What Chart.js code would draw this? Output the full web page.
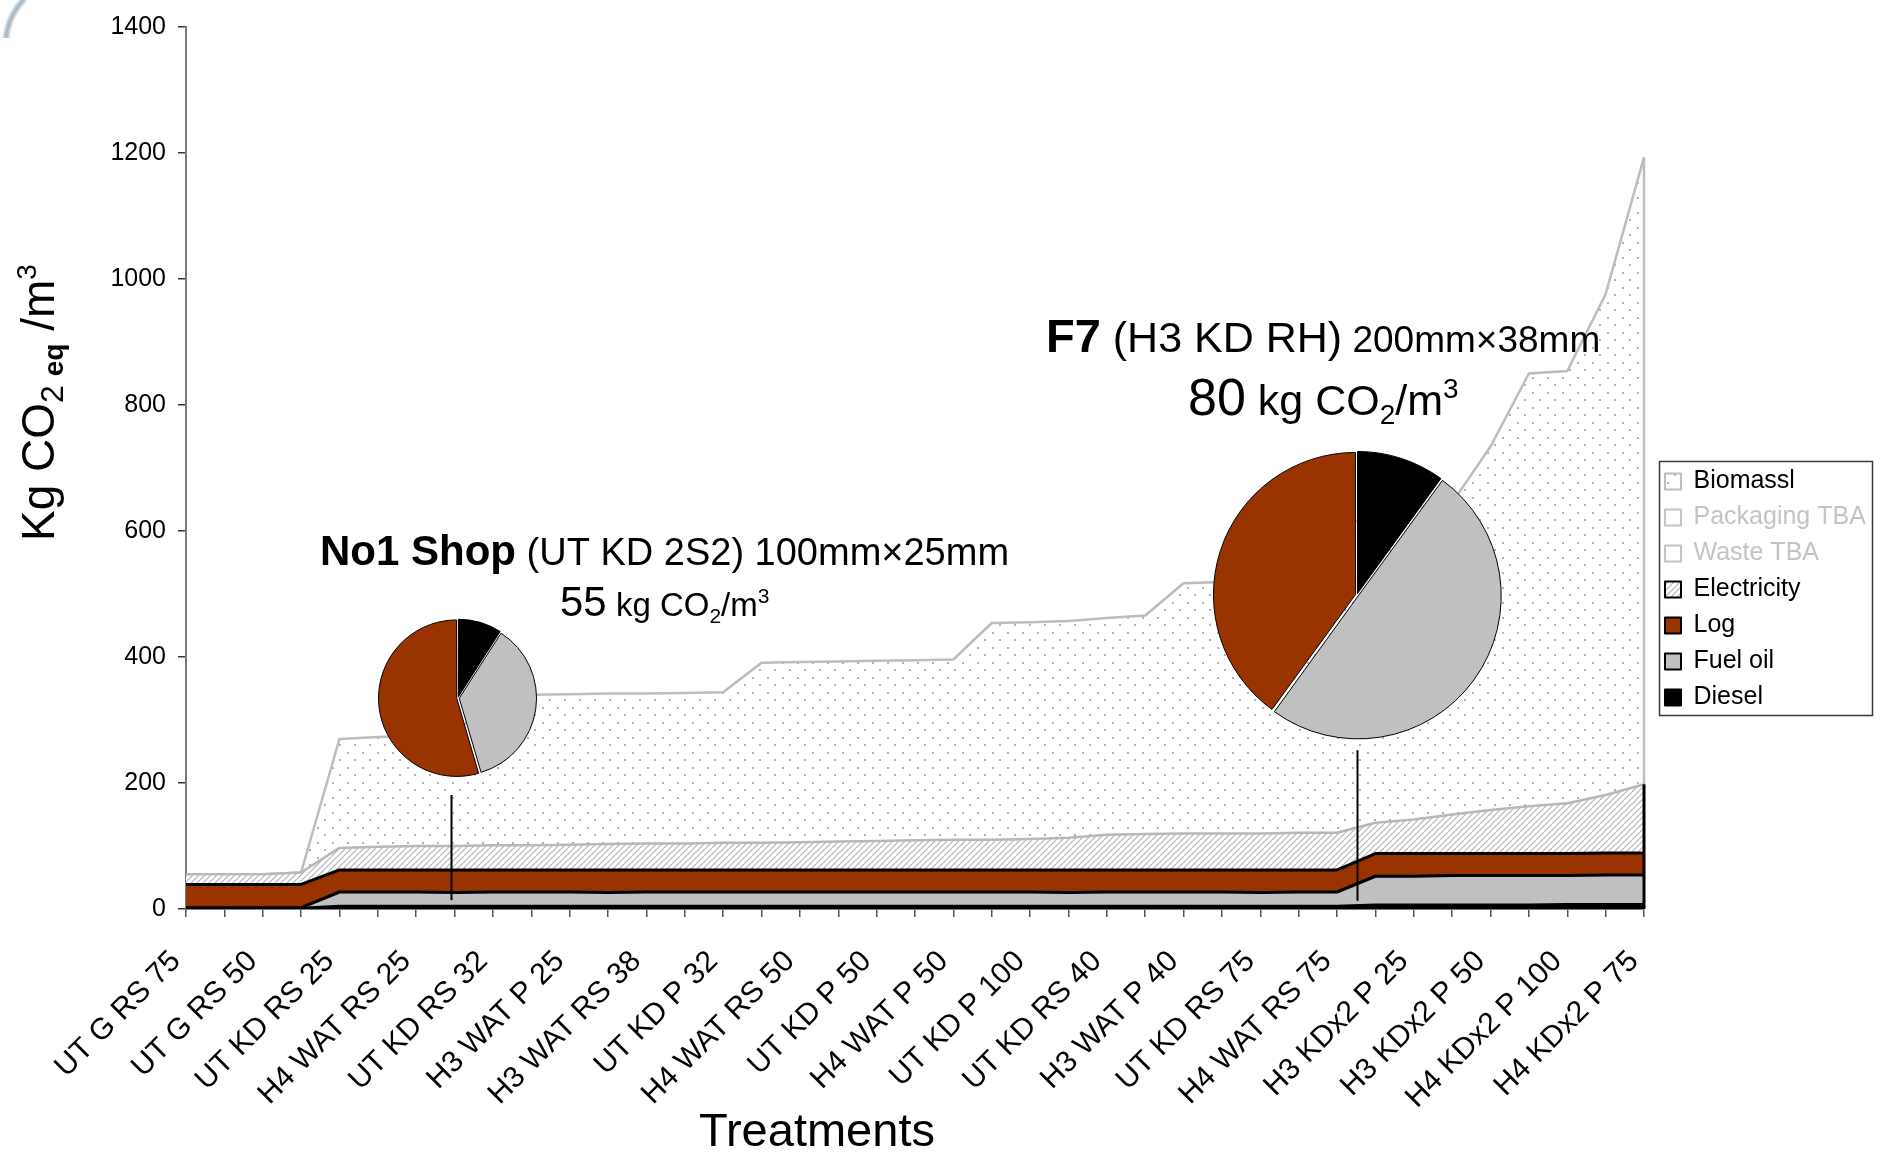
<!DOCTYPE html>
<html lang="en">
<head>
<meta charset="utf-8">
<title>Kg CO2 eq per m3 by treatment</title>
<script src="https://cdn.jsdelivr.net/npm/chart.js@4.4.1/dist/chart.umd.min.js"></script>
<style>
  html, body { margin: 0; padding: 0; background: #fff; }
  #stage { position: relative; width: 1886px; height: 1152px; overflow: hidden; background: #fff; }
  #main { position: absolute; left: 0; top: 0; }
  .pie-box { position: absolute; }
  .pie-box canvas { display: block; }
  #cornerClip { position: absolute; left: 0; top: 0; width: 70px; height: 38px; overflow: hidden; }
  #cornerRing { position: absolute; left: 3px; top: -23px; width: 136px; height: 136px; box-sizing: border-box;
                border-radius: 50%; border: 5px solid transparent; border-left-color: #a8b7c5; filter: blur(0.8px); }
</style>
</head>
<body>
<div id="stage">
  <canvas id="main" width="1886" height="1152"></canvas>
  <div id="cornerClip"><div id="cornerRing"></div></div>
  <div class="pie-box" id="pieBox1"><canvas id="pie1"></canvas></div>
  <div class="pie-box" id="pieBox2"><canvas id="pie2"></canvas></div>
</div>
<script>
const FONT = '"Liberation Sans", Arial, Helvetica, sans-serif';

// Treatments labelled on the category axis (every second position carries a label)
const tickLabels = ['UT G RS 75', 'UT G RS 50', 'UT KD RS 25', 'H4 WAT RS 25', 'UT KD RS 32',
  'H3 WAT P 25', 'H3 WAT RS 38', 'UT KD P 32', 'H4 WAT RS 50', 'UT KD P 50', 'H4 WAT P 50',
  'UT KD P 100', 'UT KD RS 40', 'H3 WAT P 40', 'UT KD RS 75', 'H4 WAT RS 75', 'H3 KDx2 P 25',
  'H3 KDx2 P 50', 'H4 KDx2 P 100', 'H4 KDx2 P 75'];
const categories = [];
for (let i = 0; i < 39; i++) categories.push(i % 2 === 0 ? tickLabels[i / 2] : '');

// Emission components, kg CO2 eq per m3 (stacked bottom to top)
const diesel = [2, 2, 2, 2, 5, 5, 5, 5, 5, 5, 5, 5, 5, 5, 5, 5, 5, 5, 5, 5, 5, 5, 5, 5, 5, 5, 5, 5, 5, 5, 5,
  7, 7, 7, 7, 7, 8, 8, 8];
const fuelOil = [0, 0, 0, 0, 22, 22, 22, 21, 22, 22, 22, 21, 22, 22, 22, 22, 22, 22, 22, 22, 22, 22, 22, 21,
  22, 22, 22, 22, 21, 22, 22, 45, 45, 46, 46, 46, 45, 46, 46];
const log = [37, 37, 37, 37, 35, 35, 35, 36, 35, 35, 35, 36, 35, 35, 35, 35, 35, 35, 35, 35, 35, 35, 35, 36,
  35, 35, 35, 35, 36, 35, 35, 36, 36, 35, 35, 35, 35, 35, 35];
const electricity = [16, 16, 16, 19, 35, 37, 38, 38, 39, 39, 40, 41, 42, 42, 43, 43, 44, 45, 46, 47, 48, 48,
  49, 51, 56, 57, 58, 58, 58, 59, 59, 49, 54, 62, 69, 75, 80, 92, 109];
const wasteTBA = [0, 0, 0, 0, 0, 0, 0, 0, 0, 0, 0, 0, 0, 0, 0, 0, 0, 0, 0, 0, 0, 0, 0, 0, 0, 0, 0, 0, 0, 0, 0,
  0, 0, 0, 0, 0, 0, 0, 0];
const packagingTBA = [0, 0, 0, 0, 0, 0, 0, 0, 0, 0, 0, 0, 0, 0, 0, 0, 0, 0, 0, 0, 0, 0, 0, 0, 0, 0, 0, 0, 0, 0, 0,
  0, 0, 0, 0, 0, 0, 0, 0];
const biomass = [0, 0, 0, 0, 173, 174, 175, 177, 237, 239, 239, 239, 238, 239, 239, 286, 286, 286, 286, 286,
  286, 344, 344, 344, 344, 347, 397, 399, 428, 457, 482, 491, 494, 495, 577, 687, 686, 795, 995];

const seriesNames = ['Diesel', 'Fuel oil', 'Log', 'Electricity', 'Waste TBA', 'Packaging TBA', 'Biomassl'];
const seriesValues = [diesel, fuelOil, log, electricity, wasteTBA, packagingTBA, biomass];

// Value axis
const yMin = 0, yMax = 1400, yStep = 200;

// Break-down of two reference products: Diesel, Fuel oil, Log
const pieLabels = ['Diesel', 'Fuel oil', 'Log'];
const pieShop = [5, 20, 30];
const pieF7 = [8, 40, 32];

// ---------------------------------------------------------------------------
const mainCanvas = document.getElementById('main');
const mctx = mainCanvas.getContext('2d');

function makeDots() {
  const t = document.createElement('canvas');
  t.width = 15; t.height = 15;
  const g = t.getContext('2d');
  g.fillStyle = '#ffffff'; g.fillRect(0, 0, 15, 15);
  g.fillStyle = '#b2b2b2';
  g.fillRect(2, 2, 2, 2);
  g.fillRect(9, 9, 2, 2);
  return mctx.createPattern(t, 'repeat');
}
function makeHatch() {
  const s = 6;
  const t = document.createElement('canvas');
  t.width = s; t.height = s;
  const g = t.getContext('2d');
  g.fillStyle = '#ffffff'; g.fillRect(0, 0, s, s);
  g.strokeStyle = '#b4b4b4'; g.lineWidth = 1.2;
  g.beginPath();
  g.moveTo(0, s); g.lineTo(s, 0);
  g.moveTo(-1, 1); g.lineTo(1, -1);
  g.moveTo(s - 1, s + 1); g.lineTo(s + 1, s - 1);
  g.stroke();
  return mctx.createPattern(t, 'repeat');
}
const dotFill = makeDots();
const hatchFill = makeHatch();

const seriesFill = ['#000000', '#c0c0c0', '#993300', hatchFill, '#ffffff', '#ffffff', dotFill];
const seriesLine = ['#000000', '#000000', '#000000', '#b8b8b8', 'rgba(0,0,0,0)', 'rgba(0,0,0,0)', '#bdbdbd'];
const seriesLineWidth = [2, 3, 3, 2.5, 1, 1, 2.5];
const legendLook = [
  { strokeStyle: '#000000', lineWidth: 2, fontColor: '#000000' },
  { strokeStyle: '#000000', lineWidth: 2, fontColor: '#000000' },
  { strokeStyle: '#000000', lineWidth: 2, fontColor: '#000000' },
  { strokeStyle: '#000000', lineWidth: 2, fontColor: '#000000' },
  { strokeStyle: '#c4c4c4', lineWidth: 2, fontColor: '#c4c4c4', fillStyle: '#ffffff' },
  { strokeStyle: '#c4c4c4', lineWidth: 2, fontColor: '#c4c4c4', fillStyle: '#ffffff' },
  { strokeStyle: '#bdbdbd', lineWidth: 2, fontColor: '#000000' }
];

const AREA = { left: 186, top: 19, right: 1644, bottom: 909 };
const LEGEND_TOP = 458;

// Text drawn in runs so that sub- and superscripts can be mixed in
function drawRuns(ctx, x, y, runs) {
  let cx = x;
  ctx.textAlign = 'left';
  ctx.textBaseline = 'alphabetic';
  for (const r of runs) {
    ctx.font = (r.b ? 'bold ' : '') + r.s + 'px ' + FONT;
    ctx.fillStyle = r.c || '#000';
    ctx.fillText(r.t, cx, y + (r.dy || 0));
    cx += ctx.measureText(r.t).width;
  }
}
const sum = a => a.reduce((p, v) => p + v, 0);

const notes = [
  { x: 320, y: 565, runs: [{ t: 'No1 Shop', s: 42, b: true }, { t: ' (UT KD 2S2) 100mm\u00d725mm', s: 38 }] },
  { x: 560, y: 616, runs: [{ t: String(sum(pieShop)), s: 42 }, { t: ' kg CO', s: 33 }, { t: '2', s: 21, dy: 7 },
    { t: '/m', s: 33 }, { t: '3', s: 21, dy: -13 }] },
  { x: 1046, y: 352, runs: [{ t: 'F7', s: 47, b: true }, { t: ' (H3 KD RH)', s: 43 }, { t: ' 200mm\u00d738mm', s: 37 }] },
  { x: 1188, y: 415, runs: [{ t: String(sum(pieF7)), s: 52 }, { t: ' kg CO', s: 43 }, { t: '2', s: 28, dy: 9 },
    { t: '/m', s: 43 }, { t: '3', s: 28, dy: -17 }] }
];
const yTitleRuns = [{ t: 'Kg CO', s: 46 }, { t: '2', s: 32, dy: 9 }, { t: ' ', s: 32 }, { t: 'eq', s: 28, b: true, dy: 9 },
  { t: ' /m', s: 46 }, { t: '3', s: 28, dy: -18 }];

// pointer lines from the pies down to the areas, in axis units
const pointers = [{ at: 6.91, from: 14, to: 181 }, { at: 30.52, from: 13, to: 252 }];

const placeLegend = {
  id: 'placeLegend',
  afterLayout(chart) {
    const lg = chart.legend;
    if (!lg) return;
    const w = lg.width, h = lg.height;
    lg.left = chart.chartArea.right + 10;
    lg.right = lg.left + w;
    lg.top = LEGEND_TOP;
    lg.bottom = lg.top + h;
  }
};

const decorations = {
  id: 'decorations',
  afterDatasetsDraw(chart) {
    const ctx = chart.ctx, xs = chart.scales.x, ys = chart.scales.y;
    ctx.save();
    // closing edges of the stacked areas at the last treatment
    const last = categories.length - 1;
    let lower = 0;
    for (let k = 0; k < 4; k++) lower += seriesValues[k][last];
    let top = lower;
    for (let k = 4; k < seriesValues.length; k++) top += seriesValues[k][last];
    const xe = xs.getPixelForValue(last);
    ctx.lineWidth = 2.5;
    ctx.strokeStyle = '#bdbdbd';
    ctx.beginPath(); ctx.moveTo(xe, ys.getPixelForValue(lower)); ctx.lineTo(xe, ys.getPixelForValue(top)); ctx.stroke();
    ctx.strokeStyle = '#000';
    ctx.lineWidth = 3;
    ctx.beginPath(); ctx.moveTo(xe, ys.getPixelForValue(0)); ctx.lineTo(xe, ys.getPixelForValue(lower)); ctx.stroke();
    // pointers
    ctx.lineWidth = 2;
    ctx.strokeStyle = '#000';
    for (const p of pointers) {
      const px = Math.round(xs.getPixelForValue(p.at)) + 0.5;
      ctx.beginPath(); ctx.moveTo(px, ys.getPixelForValue(p.from)); ctx.lineTo(px, ys.getPixelForValue(p.to)); ctx.stroke();
    }
    ctx.restore();
  },
  afterDraw(chart) {
    const ctx = chart.ctx;
    ctx.save();
    // frame round the legend
    const hb = chart.legend.legendHitBoxes;
    if (hb && hb.length) {
      let l = Infinity, t = Infinity, r = -Infinity, b = -Infinity;
      for (const h of hb) {
        l = Math.min(l, h.left); t = Math.min(t, h.top);
        r = Math.max(r, h.left + h.width); b = Math.max(b, h.top + h.height);
      }
      ctx.strokeStyle = '#3a3a3a';
      ctx.lineWidth = 1.5;
      ctx.strokeRect(Math.round(l - 6) + 0.5, Math.round(t - 8) + 0.5, Math.round(r - l + 12), Math.round(b - t + 13));
    }
    // axis titles
    ctx.save();
    ctx.translate(54, 541);
    ctx.rotate(-Math.PI / 2);
    drawRuns(ctx, 0, 0, yTitleRuns);
    ctx.restore();
    drawRuns(ctx, 699, 1146, [{ t: 'Treatments', s: 47 }]);
    // annotations above the pies
    for (const n of notes) drawRuns(ctx, n.x, n.y, n.runs);
    ctx.restore();
  }
};

const chart = new Chart(mctx, {
  type: 'line',
  data: {
    labels: categories,
    datasets: seriesNames.map((name, k) => ({
      label: name,
      data: seriesValues[k],
      backgroundColor: seriesFill[k],
      borderColor: seriesLine[k],
      borderWidth: seriesLineWidth[k],
      fill: k === 0 ? 'origin' : '-1',
      pointRadius: 0,
      pointHoverRadius: 0,
      tension: 0,
      borderJoinStyle: 'round'
    }))
  },
  options: {
    responsive: false,
    animation: false,
    devicePixelRatio: 1,
    events: [],
    layout: { padding: { left: 100, right: 20, top: 19, bottom: 30 } },
    scales: {
      x: {
        type: 'category',
        offset: false,
        grid: { display: true, drawOnChartArea: false, drawTicks: true, tickLength: 8, color: '#555', lineWidth: 1.5 },
        border: { display: true, color: '#7a7a7a', width: 2 },
        ticks: { autoSkip: false, maxRotation: 45, minRotation: 45, color: '#000', padding: 27, labelOffset: -10,
                 font: { family: FONT, size: 30 } }
      },
      y: {
        stacked: true,
        min: yMin, max: yMax,
        grid: { display: true, drawOnChartArea: false, drawTicks: true, tickLength: 8, color: '#333', lineWidth: 1.5 },
        border: { display: true, color: '#7a7a7a', width: 2 },
        ticks: { stepSize: yStep, color: '#000', padding: 12, font: { family: FONT, size: 25 },
                 callback: v => String(v) }
      }
    },
    plugins: {
      tooltip: { enabled: false },
      legend: {
        position: 'right',
        align: 'start',
        reverse: true,
        labels: {
          font: { family: FONT, size: 25 },
          color: '#000',
          boxWidth: 16,
          boxHeight: 16,
          padding: 11,
          generateLabels(c) {
            const items = Chart.defaults.plugins.legend.labels.generateLabels(c);
            items.forEach(it => Object.assign(it, legendLook[it.datasetIndex]));
            return items;
          }
        }
      }
    }
  },
  plugins: [placeLegend, decorations]
});

// pin the plotting area
for (let pass = 0; pass < 4; pass++) {
  const a = chart.chartArea, p = chart.options.layout.padding;
  const dl = AREA.left - a.left, dt = AREA.top - a.top, dr = a.right - AREA.right, db = a.bottom - AREA.bottom;
  if (Math.abs(dl) < 0.5 && Math.abs(dt) < 0.5 && Math.abs(dr) < 0.5 && Math.abs(db) < 0.5) break;
  p.left += dl; p.top += dt; p.right += dr; p.bottom += db;
  chart.update('none');
}

// pies anchored on the axes of the area chart
const pieColors = ['#000000', '#c0c0c0', '#993300'];
function makePie(canvasId, boxId, values, size, offset, anchor) {
  const box = document.getElementById(boxId);
  const cv = document.getElementById(canvasId);
  cv.width = size; cv.height = size;
  const px = chart.scales.x.getPixelForValue(anchor[0]);
  const py = chart.scales.y.getPixelForValue(anchor[1]);
  box.style.left = (px - size / 2) + 'px';
  box.style.top = (py - size / 2) + 'px';
  return new Chart(cv.getContext('2d'), {
    type: 'pie',
    data: { labels: pieLabels, datasets: [{ data: values, backgroundColor: pieColors, borderColor: '#000',
      borderWidth: 1, offset: offset }] },
    options: { responsive: false, animation: false, devicePixelRatio: 1, events: [],
      layout: { padding: 0 }, plugins: { legend: { display: false }, tooltip: { enabled: false } } }
  });
}
makePie('pie1', 'pieBox1', pieShop, 160, 5, [7.09, 335]);
makePie('pie2', 'pieBox2', pieF7, 290, 6, [30.52, 498]);
</script>
</body>
</html>
